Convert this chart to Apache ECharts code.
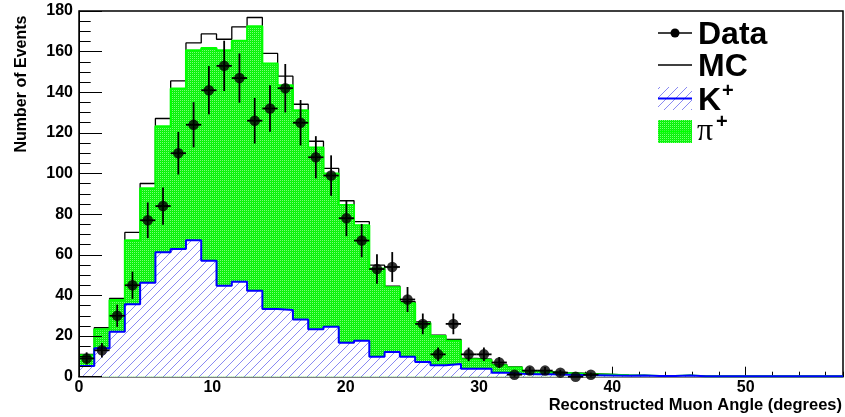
<!DOCTYPE html>
<html><head><meta charset="utf-8">
<script src="https://cdn.jsdelivr.net/npm/echarts@6/dist/echarts.min.js"></script>
<style>html,body{margin:0;padding:0;background:#fff}#c{width:845px;height:417px}</style>
</head><body><div id="c"></div>
<script>
// ---- binning (50 bins from 0 to 1 rad = 57.2958 deg) ----
const X_MIN = 0;
const X_MAX = 57.2958;
const N_BINS = 50;

// ---- series values (per bin) ----
const dataCounts = [9,13,30,45,77,84,110,124,141,153,147,126,132,142,125,108,99,78,67,53,
  54,38,26,11,26,11,11,7,1,3,3,2,0,1,null,null,null,null,null,null,
  null,null,null,null,null,null,null,null,null,null];
const mcTotal = [11,24.1,38.5,71,95.1,127.1,145.6,164.3,168.7,166.1,172.2,176.8,159.1,147.9,134.1,115.9,102.5,86.6,76.3,54.9,
  44.6,36.9,27,20.5,18.4,9,8.6,6,4.8,3,2.5,2,1.7,1.4,1.1,0.8,0.7,0.4,0.4,0.6,
  0.3,0.2,0.2,0.2,0.2,0.2,0.2,0.2,0.2,0.2];
const pionStack = [10.5,23.3,37.7,67.2,92.7,123.3,141.9,160.7,161.8,160.7,165.3,172.5,154.1,143.5,131.2,112.8,100,84.5,74.6,53.3,
  44,36.1,26.3,20,17.7,8.6,8.2,5.6,4.5,2.7,2.2,1.8,1.5,1.2,1,0.7,0.6,0.3,0.3,0.6,
  0.2,0.2,0.2,0.2,0.2,0.2,0.2,0.2,0.2,0.2];
const kaon = [5.3,14,22.1,35.6,46.2,61.2,62.8,67.2,57.1,44.8,46.7,42.3,33.3,32.8,28.2,23.3,24.6,16.7,17.7,9.8,
  12.1,9.8,7.2,5.6,6.2,3.9,3.9,2,1.5,1.2,1.2,1,0.8,0.7,0.6,0.5,0.6,0.3,0.3,0.6,
  0.2,0.2,0.2,0.2,0.2,0.2,0.2,0.2,0.2,0.2];

// ---- tick labels ----
const xTickValues = [0,10,20,30,40,50];
const yTickValues = [0,20,40,60,80,100,120,140,160,180];

const binWidth = (X_MAX - X_MIN) / N_BINS;
function stepPoints(vals){
  const pts = vals.map((v,i)=>[X_MIN + i*binWidth, v]);
  pts.push([X_MAX, vals[vals.length-1]]);
  return pts;
}
const dataPts = [];
dataCounts.forEach((v,i)=>{ if(v!==null) dataPts.push([X_MIN+(i+0.5)*binWidth, v, Math.sqrt(v)]); });

function hatchCanvas(){
  const c=document.createElement('canvas'); c.width=9; c.height=9;
  const g=c.getContext('2d'); g.fillStyle='#fff'; g.fillRect(0,0,9,9);
  g.strokeStyle='#8a8af2'; g.lineWidth=1;
  g.beginPath(); g.moveTo(-1,10); g.lineTo(10,-1); g.moveTo(-1,1); g.lineTo(1,-1); g.moveTo(8,10); g.lineTo(10,8); g.stroke();
  return c;
}
function greenCanvas(){
  const c=document.createElement('canvas'); c.width=2; c.height=2;
  const g=c.getContext('2d'); g.fillStyle='#00ff00'; g.fillRect(0,0,2,2);
  g.fillStyle='#7cf57c'; g.fillRect(0,0,1,1);
  g.fillStyle='#1ee61e'; g.fillRect(1,1,1,1);
  return c;
}
const hatch = {image: hatchCanvas(), repeat:'repeat'};
const greenPat = {image: greenCanvas(), repeat:'repeat'};

const FONT = '"Liberation Sans", Arial, Helvetica, sans-serif';
const chart = echarts.init(document.getElementById('c'), null, {renderer:'canvas'});
const lx1 = 658, lx2 = 692;
chart.setOption({
  animation:false,
  backgroundColor:'#fff',
  grid:{left:79, right:2, top:11, bottom:40.3, show:true, borderColor:'#000', borderWidth:1.5, backgroundColor:'transparent'},
  xAxis:[
    {type:'value', min:X_MIN, max:X_MAX, interval:2, z:1,
     axisLine:{show:true, onZero:false, lineStyle:{color:'#000', width:1}},
     axisTick:{show:true, inside:true, length:5, lineStyle:{color:'#000', width:1}},
     axisLabel:{show:false}, splitLine:{show:false}},
    {type:'value', min:X_MIN, max:X_MAX, interval:10, position:'bottom', z:1,
     axisLine:{show:false, onZero:false},
     axisTick:{show:true, inside:true, length:10, customValues:xTickValues, lineStyle:{color:'#000', width:1}},
     axisLabel:{show:true, customValues:xTickValues, margin:3, color:'#000', fontWeight:'bold', fontSize:16, fontFamily:FONT},
     splitLine:{show:false}}
  ],
  yAxis:{type:'value', min:0, max:180, interval:20, z:10,
    axisLine:{show:true, lineStyle:{color:'#000', width:1}},
    axisTick:{show:true, inside:true, length:23, lineStyle:{color:'#000', width:1}},
    minorTick:{show:true, splitNumber:4, length:11.7, lineStyle:{color:'#000', width:1}},
    axisLabel:{margin:6, color:'#000', fontWeight:'bold', fontSize:16, fontFamily:FONT,
      formatter:(v)=> yTickValues.indexOf(v)>=0 ? String(v) : ''},
    splitLine:{show:false}},
  series:[
    {name:'MC', type:'line', step:'end', data:stepPoints(mcTotal), symbol:'none', z:2,
     lineStyle:{color:'#000', width:1.3}},
    {name:'pi', type:'line', step:'end', data:stepPoints(pionStack), symbol:'none', z:3,
     lineStyle:{color:'#00ff00', width:2}, areaStyle:{color:greenPat, opacity:1}},
    {name:'K', type:'line', step:'end', data:stepPoints(kaon), symbol:'none', z:4,
     lineStyle:{color:'#0000ff', width:2}, areaStyle:{color:hatch, opacity:1}},
    {name:'err', type:'custom', z:5, data:dataPts,
     renderItem:function(params, api){
       const x=api.value(0), y=api.value(1), e=api.value(2);
       const a=api.coord([x, y-e]), b=api.coord([x, y+e]);
       const l=api.coord([x-binWidth/2, y]), r=api.coord([x+binWidth/2, y]);
       return {type:'group', children:[
         {type:'line', shape:{x1:a[0],y1:a[1],x2:b[0],y2:b[1]}, style:{stroke:'#000', lineWidth:1.8}},
         {type:'line', shape:{x1:l[0],y1:l[1],x2:r[0],y2:r[1]}, style:{stroke:'#000', lineWidth:1.8}}
       ]};
     }},
    {name:'Data', type:'scatter', z:6, data:dataPts.map(p=>[p[0],p[1]]), symbol:'circle', symbolSize:10.5,
     itemStyle:{color:'#000'}}
  ],
  graphic:[
    {type:'text', x:22, y:84, rotation:Math.PI/2,
     style:{text:'Number of Events', font:'bold 16px '+FONT, fill:'#000', textAlign:'center', textVerticalAlign:'middle', align:'center', verticalAlign:'middle'}},
    {type:'text', x:842, y:405,
     style:{text:'Reconstructed Muon Angle (degrees)', font:'bold 16.5px '+FONT, fill:'#000', textAlign:'right', textVerticalAlign:'middle', align:'right', verticalAlign:'middle'}},
    // legend
    {type:'line', shape:{x1:lx1,y1:33,x2:lx2,y2:33}, style:{stroke:'#000', lineWidth:1.5}},
    {type:'circle', shape:{cx:675, cy:33, r:4.5}, style:{fill:'#000'}},
    {type:'text', x:698, y:35, style:{text:'Data', font:'bold 32px '+FONT, fill:'#000', textVerticalAlign:'middle', verticalAlign:'middle'}},
    {type:'line', shape:{x1:lx1,y1:65,x2:lx2,y2:65}, style:{stroke:'#000', lineWidth:1.5}},
    {type:'text', x:698, y:67, style:{text:'MC', font:'bold 32px '+FONT, fill:'#000', textVerticalAlign:'middle', verticalAlign:'middle'}},
    {type:'rect', shape:{x:lx1,y:87,width:34,height:23}, style:{fill:hatch}},
    {type:'line', shape:{x1:lx1,y1:98.5,x2:lx2,y2:98.5}, style:{stroke:'#0000ff', lineWidth:2}},
    {type:'text', x:698, y:101, style:{text:'K', font:'bold 32px '+FONT, fill:'#000', textVerticalAlign:'middle', verticalAlign:'middle'}},
    {type:'text', x:722, y:91, style:{text:'+', font:'bold 20px '+FONT, fill:'#000', textVerticalAlign:'middle', verticalAlign:'middle'}},
    {type:'rect', shape:{x:lx1,y:120,width:34,height:23}, style:{fill:greenPat}},
    {type:'line', shape:{x1:lx1,y1:131.5,x2:lx2,y2:131.5}, style:{stroke:'#00ff00', lineWidth:2}},
    {type:'text', x:697, y:132, style:{text:'π', font:'32px "Liberation Serif", "DejaVu Serif", serif', fill:'#000', textVerticalAlign:'middle', verticalAlign:'middle'}},
    {type:'text', x:716, y:122, style:{text:'+', font:'bold 20px '+FONT, fill:'#000', textVerticalAlign:'middle', verticalAlign:'middle'}}
  ]
});
</script></body></html>
